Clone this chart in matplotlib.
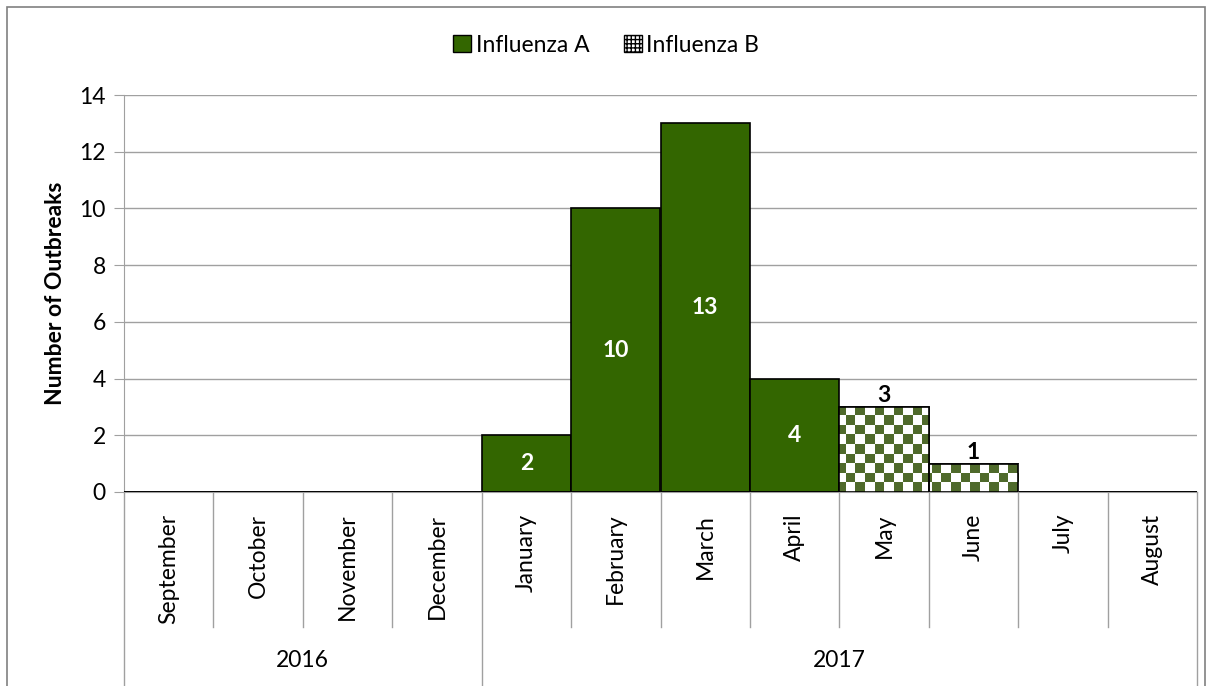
import matplotlib.pyplot as plt
import numpy as np
from matplotlib.patches import Patch, Rectangle
import matplotlib.transforms as mtransforms

plt.rcParams['font.family'] = ['Lato', 'DejaVu Sans']

months = ['September', 'October', 'November', 'December', 'January', 'February',
          'March', 'April', 'May', 'June', 'July', 'August']
years = ['2016', '2017']
year_spans = [(0, 4), (4, 12)]
flu_a = [0, 0, 0, 0, 2, 10, 13, 4, 0, 0, 0, 0]
flu_b = [0, 0, 0, 0, 0, 0, 0, 0, 3, 1, 0, 0]

green = '#336600'
olive = '#4F6A2B'
grid_col = '#A0A0A0'
fs = 16.5

fig = plt.figure(figsize=(12.12, 6.86), dpi=100)
ax = fig.add_axes([124 / 1212, 1 - 492 / 686, (1197 - 124) / 1212, (492 - 95) / 686])

# outer frame
fig.patches.append(Rectangle((7 / 1212, -0.05), (1205 - 7) / 1212, 1.05 - 7 / 686,
                             transform=fig.transFigure, fill=False,
                             edgecolor='#808080', linewidth=1.2))

x = np.arange(len(months))
ax.set_xlim(-0.5, 11.5)
ax.set_ylim(0, 14)
ax.set_yticks(range(0, 15, 2))
ax.yaxis.grid(True, color=grid_col, linewidth=1)
ax.set_axisbelow(True)
for s in ['top', 'right']:
    ax.spines[s].set_visible(False)
ax.spines['left'].set_color(grid_col)
ax.spines['bottom'].set_color(grid_col)
ax.tick_params(axis='y', length=7, color=grid_col, labelsize=fs, pad=6)
ax.tick_params(axis='x', length=0, labelbottom=False)

bars_a = ax.bar(x, flu_a, width=1.0, color=green, edgecolor='black', linewidth=1.2, zorder=3)
bars_b = ax.bar(x, flu_b, width=1.0, color='white', edgecolor='black', linewidth=1.2, zorder=3)

# checkerboard fill for Influenza B, clipped to its bars
cx = 9.5 / 89.4
cy = 9.5 / (397 / 14)
nx = int(12 / cx) + 2
ny = int(14 / cy) + 2
ii, jj = np.indices((ny, nx))
checker = ((ii + jj) % 2).astype(float)
cmap = plt.matplotlib.colors.ListedColormap(['white', olive])
for b, v in zip(bars_b, flu_b):
    if v > 0:
        im = ax.imshow(checker, cmap=cmap, extent=(-0.5, -0.5 + nx * cx, 0, ny * cy),
                       origin='lower', interpolation='nearest', aspect='auto', zorder=3.5)
        im.set_clip_path(b)
        ax.add_patch(Rectangle(b.get_xy(), b.get_width(), b.get_height(), fill=False,
                               edgecolor='black', linewidth=1.2, zorder=4))
ax.set_xlim(-0.5, 11.5)
ax.set_ylim(0, 14)

for xi, v in zip(x, flu_a):
    if v > 0:
        ax.text(xi, v / 2, str(v), ha='center', va='center', color='white',
                fontsize=fs, fontweight='bold', zorder=5)
for xi, v in zip(x, flu_b):
    if v > 0:
        ax.text(xi, v + 0.02, str(v), ha='center', va='bottom', color='black',
                fontsize=fs, fontweight='bold', zorder=5)

# category axis
trans = mtransforms.blended_transform_factory(ax.transData, ax.transAxes)
for i in range(len(months) + 1):
    bottom = -0.489 if i in (0, 4, 12) else -0.34
    ax.plot([i - 0.5, i - 0.5], [0, bottom], transform=trans, color=grid_col,
            linewidth=1, clip_on=False)
for xi, m in zip(x, months):
    ax.text(xi, -0.055, m, transform=trans, rotation=90, ha='center', va='top',
            fontsize=fs)
for (a, b), yr in zip(year_spans, years):
    ax.text((a + b - 1) / 2, -0.425, yr, transform=trans, ha='center', va='center',
            fontsize=fs)

ax.set_ylabel('Number of Outbreaks', fontsize=fs, fontweight='bold', labelpad=10)

plt.rcParams['hatch.color'] = olive
handles = [Patch(facecolor=green, edgecolor='black', label='Influenza A'),
           Patch(facecolor='white', edgecolor='black', hatch='++++', label='Influenza B')]
fig.legend(handles=handles, loc='center', bbox_to_anchor=(0.5, 1 - 45 / 686), ncol=2,
           frameon=False, fontsize=fs, handlelength=0.8, handleheight=0.8,
           handletextpad=0.2, columnspacing=1.5)

fig.savefig('out.png', dpi=100)
